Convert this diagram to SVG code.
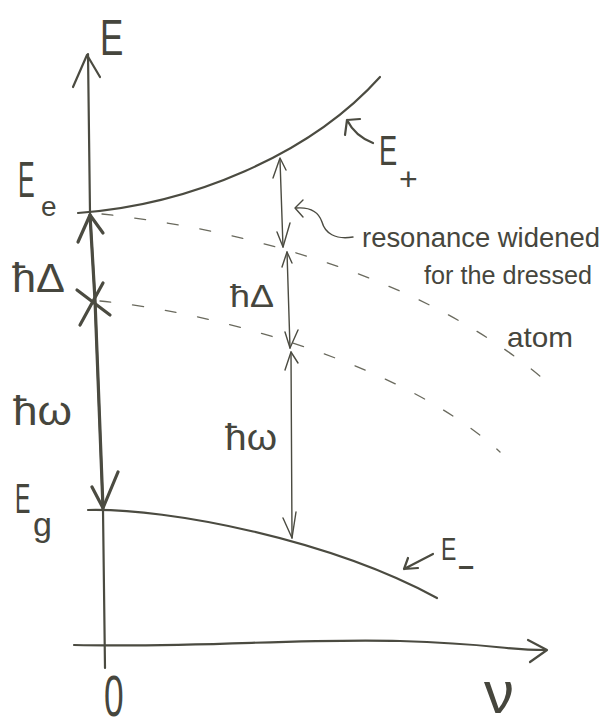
<svg xmlns="http://www.w3.org/2000/svg" width="608" height="727" viewBox="0 0 608 727">
<style>
.ink{fill:none;stroke:#4b4b41;stroke-linecap:round;stroke-linejoin:round}
.thin{stroke-width:1.4}
.med{stroke-width:2.2}
.bold{stroke-width:3.2}
.dash{fill:none;stroke:#6a6a5e;stroke-width:1.3;stroke-dasharray:11 22;stroke-linecap:round}
text{font-family:"Liberation Sans","DejaVu Sans",sans-serif;fill:#46463d}
</style>
<rect width="608" height="727" fill="#ffffff"/>
<g id="connectors">
  <!-- axes -->
  <path class="ink med" d="M88,54 L90,213 L95,300 L103,510 L105,668"/>
  <path class="ink med" d="M73,87 L87,55 L100,77"/>
  <path class="ink med" d="M74,645 C200,648 300,638 400,641 S500,650 546,650"/>
  <path class="ink med" d="M528,640 L547,650 L530,662"/>
  <!-- left bold arrows -->
  <path class="ink bold" d="M90,215 L95,300 L103,508"/>
  <path class="ink bold" d="M78,242 L90,215 L103,233"/>
  <path class="ink bold" d="M77,290 L110,315 M80,325 L103,283"/>
  <path class="ink bold" d="M92,487 L103,508 L118,472"/>
  <!-- energy curves -->
  <path class="ink med" d="M78,213 C190,205 310,155 380,77"/>
  <path class="ink med" d="M88,510 C170,508 330,540 437,598"/>
  <!-- dashed lines -->
  <path class="dash" d="M102,214 C250,230 430,280 548,383"/>
  <path class="dash" d="M100,301 C200,310 400,360 500,452"/>
  <!-- middle arrows -->
  <path class="ink thin" d="M280,160 L283,247"/>
  <path class="ink thin" d="M273,178 L280,158 L286,170 M277,232 L283,247 L290,223"/>
  <path class="ink thin" d="M287,252 L290,348"/>
  <path class="ink thin" d="M282,267 L287,252 L292,263 M285,332 L290,348 L298,330"/>
  <path class="ink thin" d="M291,352 L292,538"/>
  <path class="ink thin" d="M285,370 L291,352 L298,363 M283,518 L292,538 L296,512"/>
  <!-- annotation arrow -->
  <path class="ink thin" d="M353,237 C335,240 325,233 322,222 C318,210 308,207 296,208"/>
  <path class="ink thin" d="M303,200 L295,208 L303,217"/>
  <!-- E+ pointer -->
  <path class="ink med" d="M345,135 L347,120 L360,119 M347,120 Q355,136 373,143"/>
  <!-- E- pointer -->
  <path class="ink med" d="M433,554 L404,569 M408,558 L404,569 L418,568"/>
</g>
<g id="label-E"><text transform="translate(100,55) scale(0.7,1)" font-size="50">E</text></g>
<g id="label-Ee"><text transform="translate(18,197) scale(0.5,1)" font-size="50">E</text><text x="41" y="216" font-size="28">e</text></g>
<g id="label-hDelta-left"><text x="12" y="292" font-size="40" textLength="53" lengthAdjust="spacingAndGlyphs">ħΔ</text></g>
<g id="label-homega-left"><text x="13" y="425" font-size="40" textLength="59" lengthAdjust="spacingAndGlyphs">ħω</text></g>
<g id="label-Eg"><text transform="translate(15,513) scale(0.55,1)" font-size="42">E</text><text x="33" y="536" font-size="34">g</text></g>
<g id="label-hDelta-mid"><text x="230" y="307" font-size="32" textLength="44" lengthAdjust="spacingAndGlyphs">ħΔ</text></g>
<g id="label-homega-mid"><text x="225" y="450" font-size="36" textLength="52" lengthAdjust="spacingAndGlyphs">ħω</text></g>
<g id="label-Eplus"><text transform="translate(379,165) scale(0.65,1)" font-size="42">E</text><text x="399" y="190" font-size="32">+</text></g>
<g id="label-Eminus"><text transform="translate(441,560) scale(0.72,1)" font-size="32">E</text><text x="458" y="577" font-size="28" font-weight="bold">−</text></g>
<g id="label-zero"><text transform="translate(104,716) scale(0.62,1)" font-size="57">0</text></g>
<g id="label-nu"><text x="484" y="713" font-size="60">ν</text></g>
<g id="annotation">
  <text x="362" y="247" font-size="27" textLength="238" lengthAdjust="spacingAndGlyphs">resonance widened</text>
  <text x="424" y="284" font-size="26" textLength="168" lengthAdjust="spacingAndGlyphs">for the dressed</text>
  <text x="507" y="347" font-size="28" textLength="66" lengthAdjust="spacingAndGlyphs">atom</text>
</g>
</svg>
